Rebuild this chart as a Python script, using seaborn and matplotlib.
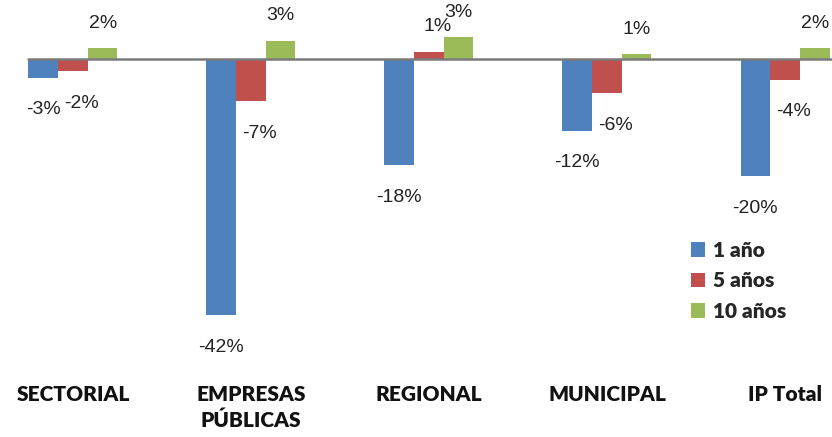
import matplotlib
matplotlib.use("Agg")
import matplotlib.pyplot as plt
import seaborn as sns
import pandas as pd

# categories and series (bar heights, in %)
categories = ["SECTORIAL", "EMPRESAS\nPÚBLICAS", "REGIONAL", "MUNICIPAL", "IP Total"]
series = ["1 año", "5 años", "10 años"]
uno = [-3.1, -42.0, -17.4, -11.8, -19.2]
cinco = [-2.0, -6.9, 1.15, -5.6, -3.4]
diez = [1.8, 2.95, 3.6, 0.8, 1.8]
# labels as printed on the chart
lab_uno = ["-3%", "-42%", "-18%", "-12%", "-20%"]
lab_cinco = ["-2%", "-7%", "1%", "-6%", "-4%"]
lab_diez = ["2%", "3%", "3%", "1%", "2%"]

colors = ["#4F81BD", "#C0504D", "#9BBB59"]

df = pd.DataFrame({
    "cat": categories * 3,
    "serie": [s for s in series for _ in categories],
    "val": uno + cinco + diez,
})

sns.set_style("white")
fig = plt.figure(figsize=(8.32, 4.37), dpi=100)
W, H = 832, 437
ax = fig.add_axes([8 / W, 1 - 370 / H, (W - 8) / W, 370 / H])

sns.barplot(data=df, x="cat", y="val", hue="serie", order=categories,
            hue_order=series, palette=colors, width=0.5, saturation=1,
            edgecolor="none", ax=ax, legend=True)

ax.set_xlim(-0.365, 4.264)
ax.set_ylim(-50.98, 9.67)
ax.axhline(0, xmin=20 / 824, color="#7a7a7a", lw=1.8, zorder=1)

for s in ["top", "right", "bottom", "left"]:
    ax.spines[s].set_visible(False)

ax.set_yticks([0, -10, -20, -30, -40, -50])
ax.tick_params(axis="y", length=3, width=1, color="#A6CAEC",
               direction="inout", labelleft=False)
ax.set_xticks(range(len(categories)))
ax.set_xticklabels(categories, fontfamily="Lato", fontweight="heavy",
                   fontsize=15, color="#111111", linespacing=1.4)
ax.tick_params(axis="x", length=0, pad=11)
ax.set_xlabel("")
ax.set_ylabel("")

all_labels = [lab_uno, lab_cinco, lab_diez]
dx = [0, 6, 0]
for i, cont in enumerate(ax.containers):
    for bar, txt in zip(cont, all_labels[i]):
        h = bar.get_height()
        x = bar.get_x() + bar.get_width() / 2
        off = 18 if h >= 0 else -23
        ax.annotate(txt, (x, h), xytext=(dx[i], off), textcoords="offset points",
                    ha="center", va="center", fontsize=14,
                    fontfamily="Liberation Sans", color="#222222")

handles, labels = ax.get_legend_handles_labels()
ax.legend(handles, labels, loc="upper left", bbox_to_anchor=(672 / W, 1 - 222 / H),
          bbox_transform=fig.transFigure, frameon=False, handlelength=0.7,
          handleheight=0.7, handletextpad=0.35, labelspacing=0.55,
          prop={"family": "Lato", "weight": "heavy", "size": 15})

fig.savefig("out.png", dpi=100)
